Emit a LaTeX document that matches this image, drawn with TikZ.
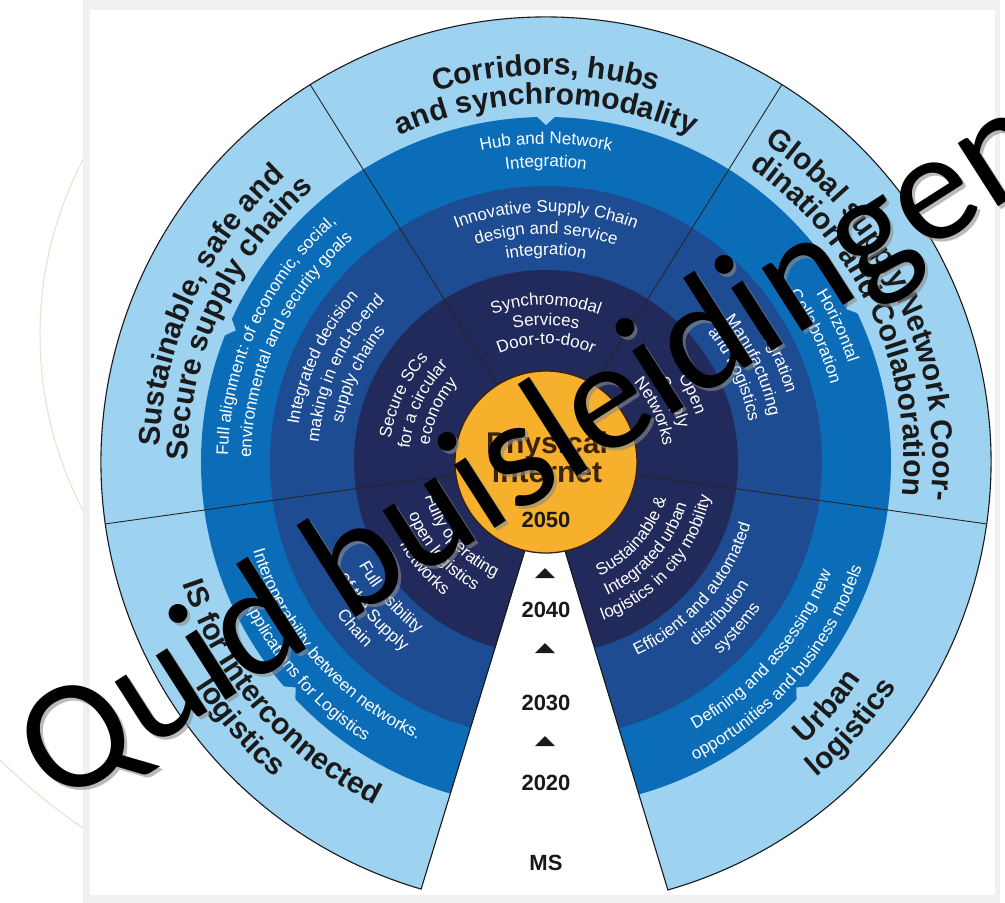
\documentclass[tikz,border=0pt]{standalone}
\usepackage{fontspec}
\setmainfont{Liberation Sans}
\newfontfamily\wmfont{Carlito}
\usetikzlibrary{decorations.text}
\definecolor{lblue}{HTML}{9DD3F1}
\definecolor{mblue}{HTML}{0B6DB7}
\definecolor{dblue}{HTML}{1D4C92}
\definecolor{nblue}{HTML}{22295B}
\definecolor{orng}{HTML}{F7B02B}
\definecolor{obrown}{HTML}{3A220C}
\definecolor{beige}{HTML}{E6E2CC}
\definecolor{panelgray}{HTML}{F0F0F0}
\definecolor{lbltxt}{HTML}{1A1A1A}
\tikzset{
  secline/.style={draw=black!85, line width=0.9pt},
  ringedge/.style={draw=black!90, line width=1.1pt},
  yeartxt/.style={font=\bfseries\fontsize{22}{22}\selectfont, text=black!90, anchor=base, inner sep=0},
  coretxt/.style={font=\bfseries\fontsize{30}{30}\selectfont, text=obrown, anchor=base, inner sep=0},
  yearmark/.style={fill=black!90},
  wmtxt/.style={font=\wmfont\fontsize{157}{157}\selectfont, rotate=32.6, anchor=base west, inner sep=0},
}
\newcommand\outertxt[4]{\path[decorate,decoration={text along path,text align=center,text color=lbltxt,text={|\bfseries\fontsize{30}{30}\selectfont|#4}}] (#2:#1) arc[start angle=#2,end angle=#3,radius=#1];}
\newcommand\innertxt[4]{\path[decorate,decoration={text along path,text align=center,text color=white,text={|\fontsize{17}{17}\selectfont|#4}}] (#2:#1) arc[start angle=#2,end angle=#3,radius=#1];}
\begin{document}
\begin{tikzpicture}[x=1pt,y=1pt]
\useasboundingbox (-546,-441) rectangle (459,462);
\fill[white] (-546,-441) rectangle (459,462);
\begin{scope}
  \clip (-546,-441) rectangle (-463,462);
  \draw[beige, line width=1pt] (-128,127) circle (378);
  \draw[beige, line width=1pt] (-128,127) circle (596);
\end{scope}
\fill[panelgray] (-463,-441) rectangle (454,462);
\fill[white] (-456,-433) rectangle (449,452);

% rings
\begin{scope}
  \clip (-1,-23) -- (253.7:445) arc[start angle=253.7,end angle=-74.1,radius=445] -- cycle;
  \fill[lblue] (0,0) circle (445);
  \fill[mblue] (0,0) circle (345);
  \foreach \a in {157,90,27,222,318} \fill[lblue] (\a-1.6:346) -- (\a:337) -- (\a+1.6:346) -- cycle;
  \fill[dblue] (0,0) circle (276);
  \fill[nblue] (0,0) circle (192);
\end{scope}
\draw[ringedge] (-1,-23) -- (253.7:445) arc[start angle=253.7,end angle=-74.1,radius=445] -- cycle;
\foreach \a in {122,58,-8,188} \draw[secline] (\a:91) -- (\a:445);

% Corridors
\outertxt{387}{122}{58}{Corridors, hubs}
\outertxt{358}{122}{58}{and synchromodality}
\innertxt{318}{122}{58}{Hub and Network}
\innertxt{295}{122}{58}{Integration}
\innertxt{250}{122}{58}{Innovative Supply Chain}
\innertxt{228}{122}{58}{design and service}
\innertxt{207}{122}{58}{integration}
\innertxt{157}{122}{58}{Synchromodal}
\innertxt{137}{122}{58}{Services}
\innertxt{118}{122}{58}{Door-to-door}
% Sustainable
\outertxt{387}{188}{122}{Sustainable, safe and}
\outertxt{358}{188}{122}{Secure supply chains}
\innertxt{318}{188}{122}{Full alignment: of economic, social,}
\innertxt{295}{188}{122}{environmental and security goals}
\innertxt{250}{188}{122}{Integrated decision}
\innertxt{228}{188}{122}{making in end-to-end}
\innertxt{207}{188}{122}{supply chains}
\innertxt{157}{188}{122}{Secure SCs}
\innertxt{137}{188}{122}{for a circular}
\innertxt{118}{188}{122}{economy}
% Global
\outertxt{387}{58}{-8}{Global supply Network Coor-}
\outertxt{358}{58}{-8}{dination and Collaboration}
\innertxt{318}{58}{-8}{Horizontal}
\innertxt{295}{58}{-8}{Collaboration}
\innertxt{250}{58}{-8}{Integration}
\innertxt{228}{58}{-8}{Manufacturing}
\innertxt{207}{58}{-8}{and Logistics}
\innertxt{157}{58}{-8}{Open}
\innertxt{137}{58}{-8}{Supply}
\innertxt{118}{58}{-8}{Networks}
% IS
\outertxt{383}{188}{254}{IS for Interconnected}
\outertxt{416}{188}{254}{logistics}
\innertxt{306}{188}{254}{Interoperability between networks.}
\innertxt{333}{188}{254}{Applications for Logistics}
\innertxt{214}{188}{254}{Full visibility}
\innertxt{237}{188}{254}{of the Supply}
\innertxt{259}{188}{254}{Chain}
\innertxt{126}{188}{254}{Fully operating}
\innertxt{147}{188}{254}{open logistics}
\innertxt{168}{188}{254}{networks}
% Urban
\outertxt{383}{286}{352}{Urban}
\outertxt{416}{286}{352}{logistics}
\innertxt{306}{286}{352}{Defining and assessing new}
\innertxt{333}{286}{352}{opportunities and business models}
\innertxt{214}{286}{352}{Efficient and automated}
\innertxt{237}{286}{352}{distribution}
\innertxt{259}{286}{352}{systems}
\innertxt{126}{286}{352}{Sustainable {\&}}
\innertxt{147}{286}{352}{Integrated urban}
\innertxt{168}{286}{352}{logistics in city mobility}

% core
\node[circle, fill=orng, draw=obrown, line width=1.3pt, minimum size=182pt, inner sep=0] (core) at (0,0) {};
\node[coretxt] (phys) at (1,9) {Physical};
\node[coretxt] (inet) at (1,-20) {internet};
\node[yeartxt] (y2050) at (0,-65) {2050};

% timeline
\fill[yearmark] (-11,-116) -- (9,-116) -- (-1,-106) -- cycle;
\node[yeartxt] (y2040) at (0,-155) {2040};
\fill[yearmark] (-11,-191) -- (9,-191) -- (-1,-181) -- cycle;
\node[yeartxt] (y2030) at (0,-248) {2030};
\fill[yearmark] (-11,-284) -- (9,-284) -- (-1,-274) -- cycle;
\node[yeartxt] (y2020) at (0,-328) {2020};
\node[yeartxt] (ms) at (0,-408) {MS};

% watermark
\node[wmtxt, text=black!45, opacity=0.6] (wmshadow) at (-485,-349) {Quid buisleidingen};
\node[wmtxt, text=black] (wm) at (-488,-346) {Quid buisleidingen};
\end{tikzpicture}
\end{document}
